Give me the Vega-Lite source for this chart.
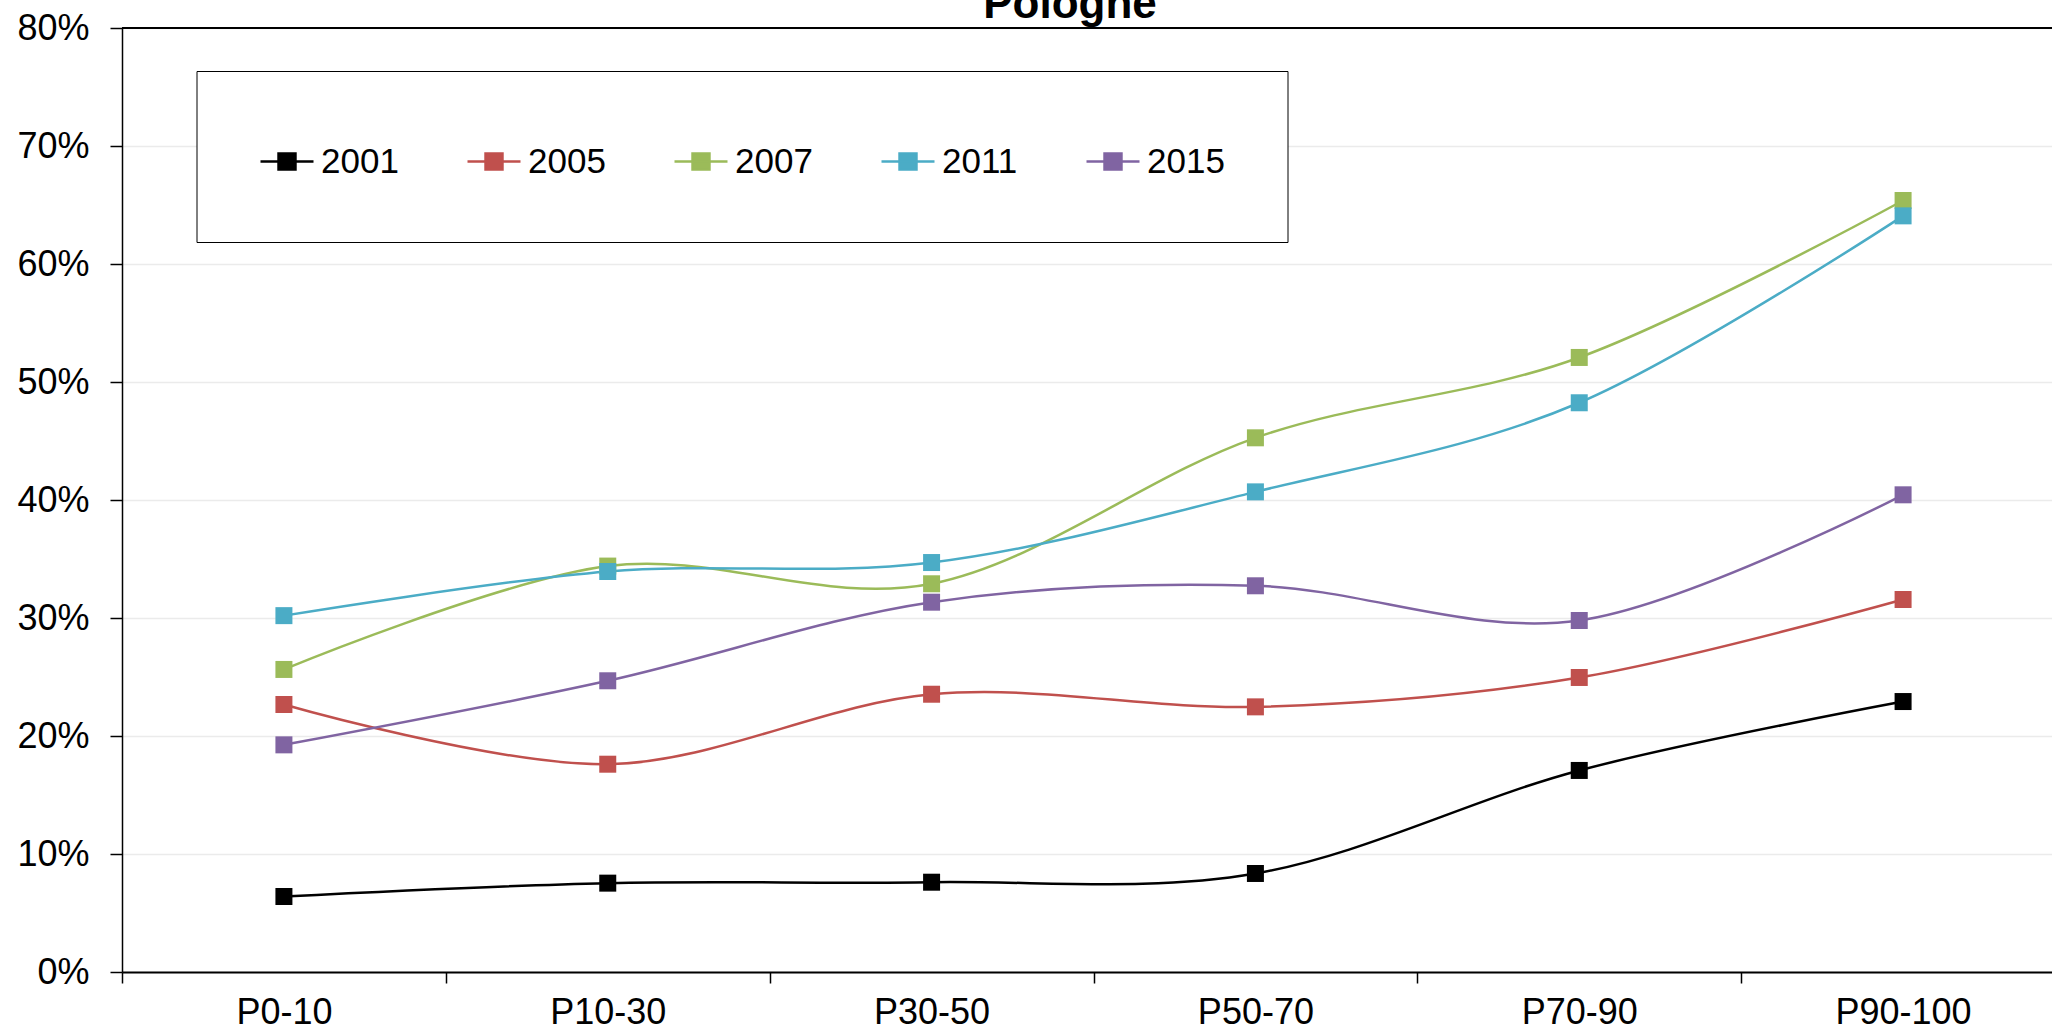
{
  "$schema": "https://vega.github.io/schema/vega-lite/v6.json",
  "width": 1930,
  "height": 944,
  "autosize": {"type": "none"},
  "padding": {"left": 122, "top": 28, "right": 0, "bottom": 62},
  "background": "white",
  "title": {"text": "Pologne", "font": "Liberation Sans", "fontSize": 44, "fontWeight": "bold", "color": "black", "anchor": "middle", "frame": "group", "baseline": "alphabetic", "offset": -52, "dx": -17},
  "config": {"view": {"stroke": null}, "font": "Liberation Sans"},
  "data": {"values": [
    {"year": "2001", "cat": "P0-10", "value": 0.064},
    {"year": "2001", "cat": "P10-30", "value": 0.0753},
    {"year": "2001", "cat": "P30-50", "value": 0.0761},
    {"year": "2001", "cat": "P50-70", "value": 0.0835},
    {"year": "2001", "cat": "P70-90", "value": 0.1708},
    {"year": "2001", "cat": "P90-100", "value": 0.2292},
    {"year": "2005", "cat": "P0-10", "value": 0.2267},
    {"year": "2005", "cat": "P10-30", "value": 0.1761},
    {"year": "2005", "cat": "P30-50", "value": 0.2354},
    {"year": "2005", "cat": "P50-70", "value": 0.2247},
    {"year": "2005", "cat": "P70-90", "value": 0.2496},
    {"year": "2005", "cat": "P90-100", "value": 0.3157},
    {"year": "2007", "cat": "P0-10", "value": 0.2564},
    {"year": "2007", "cat": "P10-30", "value": 0.344},
    {"year": "2007", "cat": "P30-50", "value": 0.329},
    {"year": "2007", "cat": "P50-70", "value": 0.4527},
    {"year": "2007", "cat": "P70-90", "value": 0.5208},
    {"year": "2007", "cat": "P90-100", "value": 0.6538},
    {"year": "2011", "cat": "P0-10", "value": 0.302},
    {"year": "2011", "cat": "P10-30", "value": 0.3394},
    {"year": "2011", "cat": "P30-50", "value": 0.347},
    {"year": "2011", "cat": "P50-70", "value": 0.4069},
    {"year": "2011", "cat": "P70-90", "value": 0.4824},
    {"year": "2011", "cat": "P90-100", "value": 0.6408},
    {"year": "2015", "cat": "P0-10", "value": 0.1925},
    {"year": "2015", "cat": "P10-30", "value": 0.2468},
    {"year": "2015", "cat": "P30-50", "value": 0.3134},
    {"year": "2015", "cat": "P50-70", "value": 0.3273},
    {"year": "2015", "cat": "P70-90", "value": 0.2979},
    {"year": "2015", "cat": "P90-100", "value": 0.4044}
  ]},
  "layer": [
    {
      "mark": {"type": "line", "interpolate": "cardinal", "strokeWidth": 2.5, "point": {"shape": "square", "size": 289, "filled": true, "opacity": 1}},
      "encoding": {
        "x": {"field": "cat", "type": "ordinal", "sort": ["P0-10", "P10-30", "P30-50", "P50-70", "P70-90", "P90-100"],
          "scale": {"type": "band", "range": [0, 1943], "paddingInner": 0, "paddingOuter": 0},
          "axis": {"title": null, "domainColor": "black", "domainWidth": 2, "tickColor": "black", "tickWidth": 1.5, "tickSize": 11, "tickBand": "extent", "labelFontSize": 36, "labelColor": "black", "labelPadding": 12, "labelAngle": 0, "grid": false, "labelFont": "Liberation Sans"}},
        "y": {"field": "value", "type": "quantitative", "scale": {"domain": [0, 0.8], "nice": false},
          "axis": {"title": null, "values": [0, 0.1, 0.2, 0.3, 0.4, 0.5, 0.6, 0.7, 0.8], "format": ".0%", "labelFontSize": 36, "labelColor": "black", "labelPadding": 21, "tickSize": 12, "tickColor": "black", "tickWidth": 1.5, "domainColor": "black", "domainWidth": 1.5, "grid": true, "gridColor": "#EBEBEB", "gridWidth": 1.5, "labelFont": "Liberation Sans"}},
        "color": {"field": "year", "type": "nominal",
          "scale": {"domain": ["2001", "2005", "2007", "2011", "2015"], "range": ["#000000", "#C0504D", "#9BBB59", "#4BACC6", "#8064A2"]},
          "legend": {"title": null, "orient": "none", "legendX": 74.5, "legendY": 43, "direction": "horizontal",
            "padding": 62.5, "strokeColor": "black", "fillColor": "white",
            "symbolType": "M-1,0H1M-0.32,-0.3H0.32V0.3H-0.32Z", "symbolSize": 2809, "symbolStrokeWidth": 2.5,
            "labelFontSize": 35, "labelFont": "Liberation Sans", "labelColor": "black", "labelOffset": 6, "columnPadding": 63, "labelBaseline": "middle",
            "encode": {"symbols": {"update": {"fill": {"scale": "color", "field": "value"}, "stroke": {"scale": "color", "field": "value"}, "strokeWidth": {"value": 2.5}, "opacity": {"value": 1}}}}}}
      }
    },
    {
      "mark": {"type": "rule", "color": "black", "strokeWidth": 2},
      "encoding": {"y": {"datum": 0.8, "type": "quantitative"}}
    }
  ]
}
